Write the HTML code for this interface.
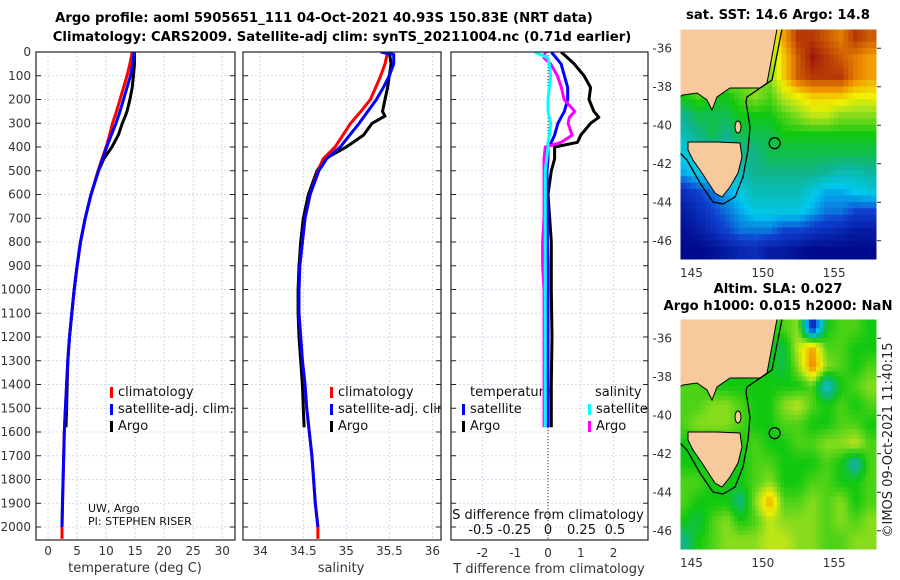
<!DOCTYPE html>
<html><head><meta charset="utf-8"><style>
body{margin:0;background:#fff;}
svg{display:block;font-family:"DejaVu Sans","Liberation Sans",sans-serif;}
.tk{font-size:12px;fill:#333;}
.ttl{font-size:13.2px;font-weight:bold;fill:#000;}
</style></head><body>
<svg id="fig" width="900" height="580" viewBox="0 0 900 580"></svg>
<script>
// ---- profile data ----
const depthClim=[0,50,100,150,200,250,300,350,400,450,500,600,700,800,900,1000,1100,1200,1300,1400,1500,1600,1700,1800,1900,2000,2050];
const tempClim=[14.5,14.1,13.6,13.0,12.4,11.8,11.1,10.6,10.0,9.3,8.6,7.4,6.4,5.6,5.0,4.5,4.1,3.7,3.4,3.2,3.0,2.8,2.7,2.6,2.5,2.4,2.4];
const tempSat=[14.8,14.6,14.2,13.6,13.0,12.4,11.7,10.9,10.1,9.4,8.7,7.4,6.4,5.6,5.0,4.5,4.1,3.7,3.4,3.2,3.0,2.8,2.7,2.6,2.5,2.4];
const depthArgo=[0,50,100,150,200,250,270,300,350,400,450,500,600,700,800,900,1000,1100,1200,1300,1400,1500,1580];
const tempArgo=[14.9,14.9,14.7,14.5,14.1,13.6,13.3,12.8,12.1,11.0,9.6,8.7,7.4,6.4,5.6,5.0,4.5,4.1,3.7,3.4,3.3,3.2,3.1];
const salClim=[35.48,35.45,35.40,35.34,35.28,35.17,35.05,34.96,34.87,34.73,34.67,34.58,34.52,34.49,34.46,34.45,34.45,34.47,34.49,34.52,34.54,34.57,34.6,34.62,34.64,34.67,34.67];
const depthSatS=[0,10,50,100,150,200,250,300,350,400,450,500,600,700,800,900,1000,1100,1200,1300,1400,1500,1600,1700,1800,1900,2000];
const salSat=[35.4,35.55,35.55,35.5,35.43,35.35,35.25,35.15,35.04,34.93,34.77,34.68,34.58,34.52,34.49,34.46,34.45,34.45,34.47,34.49,34.52,34.54,34.57,34.6,34.62,34.64,34.67];
const salArgo=[35.5,35.52,35.5,35.48,35.45,35.42,35.45,35.3,35.2,35.0,34.75,34.66,34.56,34.5,34.47,34.45,34.44,34.44,34.45,34.47,34.49,34.5,34.51];
// ---- difference data ----
const depthDiff=[0,25,50,100,150,200,250,275,300,350,380,400,450,500,600,700,800,900,1000,1200,1400,1580];
const dTempArgo=[0.4,0.6,0.8,1.1,1.3,1.25,1.4,1.55,1.3,1.0,0.9,0.2,0.2,0.1,0.0,0.05,0.1,0.1,0.1,0.12,0.1,0.1];
const dTempSat=[0.1,0.25,0.4,0.5,0.6,0.6,0.5,0.4,0.3,0.2,0.1,0.0,0.0,-0.03,-0.03,-0.02,-0.02,0,0,0,0,0];
const dSalArgo=[-0.02,-0.03,0.02,0.07,0.1,0.12,0.2,0.16,0.15,0.18,0.1,-0.02,-0.03,-0.03,-0.03,-0.03,-0.04,-0.04,-0.03,-0.03,-0.03,-0.03];
const dSalSat=[-0.1,0.0,0.01,0.02,0.01,0.0,0.0,0.01,0.02,0.01,0.0,0.0,-0.01,-0.02,-0.02,-0.02,-0.02,-0.02,-0.02,-0.02,-0.02,-0.02];
// ---- map grids (normalised colour value 0..1), rows lat -35..-47, cols lon 144..158 ----
const sstGrid=[
[.6,.6,.6,.6,.6,.6,.6,.8,.95,.95,.9,.85,.95,.9],
[.6,.6,.6,.6,.6,.6,.6,.75,.9,1,.95,.9,.85,.8],
[.6,.6,.6,.6,.6,.6,.6,.75,.9,.95,.95,.95,.85,.8],
[.5,.55,.5,.5,.55,.6,.55,.65,.7,.75,.75,.75,.7,.7],
[.4,.45,.45,.45,.5,.5,.5,.55,.6,.65,.65,.6,.6,.6],
[.35,.4,.45,.4,.45,.45,.45,.5,.5,.5,.5,.5,.5,.5],
[.3,.35,.35,.35,.4,.4,.45,.45,.45,.45,.45,.45,.45,.45],
[.25,.3,.3,.3,.35,.4,.4,.4,.4,.4,.38,.35,.35,.38],
[.1,.15,.2,.25,.3,.35,.35,.35,.35,.3,.25,.25,.28,.3],
[.05,.1,.15,.2,.25,.3,.3,.3,.3,.25,.2,.2,.15,.15],
[.02,.05,.1,.15,.2,.2,.2,.15,.15,.12,.1,.08,.05,.05],
[0,0,.02,.05,.08,.1,.05,.05,.02,0,0,0,0,0]];
const slaGrid=[
[.5,.5,.5,.5,.5,.5,.5,.55,.6,.05,.5,.55,.55,.5],
[.5,.5,.5,.5,.5,.5,.5,.45,.65,.8,.55,.55,.5,.5],
[.5,.5,.5,.5,.5,.5,.5,.45,.6,.85,.6,.55,.5,.55],
[.55,.55,.5,.5,.5,.5,.5,.5,.5,.55,.3,.5,.55,.6],
[.55,.55,.6,.6,.55,.5,.5,.6,.65,.55,.5,.55,.5,.55],
[.55,.6,.6,.6,.55,.5,.5,.55,.55,.5,.5,.55,.55,.5],
[.5,.5,.5,.5,.5,.55,.5,.5,.55,.55,.6,.6,.65,.55],
[.5,.5,.5,.5,.5,.55,.55,.5,.5,.5,.55,.5,.35,.55],
[.55,.55,.5,.5,.5,.55,.6,.5,.5,.55,.55,.5,.5,.55],
[.55,.5,.5,.5,.4,.6,.8,.55,.55,.6,.55,.6,.5,.55],
[.5,.45,.55,.6,.5,.55,.65,.6,.6,.6,.55,.6,.55,.6],
[.4,.5,.55,.6,.6,.6,.65,.65,.6,.6,.55,.55,.6,.6]];
const depthTicks=[0,100,200,300,400,500,600,700,800,900,1000,1100,1200,1300,1400,1500,1600,1700,1800,1900,2000];
const tempTicks=[0,5,10,15,20,25,30];
const salTicks=[34,34.5,35,35.5,36];
const salTickLabels=["34","34.5","35","35.5","36"];
const dTTicks=[-2,-1,0,1,2];
const dSTicks=[-0.5,-0.25,0,0.25,0.5];
const dSTickLabels=["-0.5","-0.25","0","0.25","0.5"];
const latTicks=[-36,-38,-40,-42,-44,-46];
const lonTicks=[145,150,155];
const argoPos=[150.83,-40.93];

const NS="http://www.w3.org/2000/svg";
const svg=document.getElementById('fig');
function mk(tag,attrs,parent){const e=document.createElementNS(NS,tag);for(const k in attrs)e.setAttribute(k,attrs[k]);(parent||svg).appendChild(e);return e;}
function txt(x,y,s,cls,anchor,parent){const t=mk('text',{x:x,y:y,class:cls,'text-anchor':anchor||'middle'},parent);t.textContent=s;return t;}

const Y0=52,Y1=540;
const yD=d=>Y0+(d/2000)*(527-Y0);
const panels=[
 {name:'temperature-panel',x0:36,x1:235,dom:[-2.07,32.2]},
 {name:'salinity-panel',x0:243,x1:441,dom:[33.8,36.1]},
 {name:'difference-panel',x0:451,x1:648,dom:[-2.96,3.05]}];
function sx(p,v){return p.x0+(v-p.dom[0])/(p.dom[1]-p.dom[0])*(p.x1-p.x0);}
const sS=v=>548+v*134;

const defs=mk('defs',{});
panels.forEach((p,i)=>{const c=mk('clipPath',{id:'cp'+i},defs);mk('rect',{x:p.x0,y:Y0,width:p.x1-p.x0,height:Y1-Y0},c);});

function grid(p,g,xs){
  depthTicks.forEach(d=>{const l=mk('line',{x1:p.x0,x2:p.x1,y1:yD(d),y2:yD(d),stroke:'#c9cfe6','stroke-width':0.8,'stroke-dasharray':'2,2'},g);
  });
  xs.forEach(x=>{const l=mk('line',{x1:x,x2:x,y1:Y0,y2:Y1,stroke:'#c9cfe6','stroke-width':0.8,'stroke-dasharray':'2,2'},g);
  });
}
function line(g,xs,ds,color,name,clip){
  let d='';xs.forEach((v,i)=>{d+=(i?'L':'M')+v.toFixed(1)+','+yD(ds[i]).toFixed(1);});
  const p=mk('path',{d:d,fill:'none',stroke:color,'stroke-width':3,'stroke-linejoin':'round','clip-path':'url(#'+clip+')'},g);
  
}
function frame(p,g){
  const r=mk('rect',{x:p.x0,y:Y0,width:p.x1-p.x0,height:Y1-Y0,fill:'none',stroke:'#222','stroke-width':1.2},g);
  
  depthTicks.forEach(d=>{mk('line',{x1:p.x0,x2:p.x0+5,y1:yD(d),y2:yD(d),stroke:'#222'},g);mk('line',{x1:p.x1-5,x2:p.x1,y1:yD(d),y2:yD(d),stroke:'#222'},g);});
}
function legendEntry(g,x,y,color,label,name){
  const gg=mk('g',{},g);
  mk('rect',{x:x,y:y-9,width:3,height:11,fill:color},gg);
  txt(x+8,y,label,'tk','start',gg).setAttribute('style','font-size:13px;fill:#111');
}

const t1=txt(324,22,'Argo profile: aoml 5905651_111 04-Oct-2021 40.93S 150.83E (NRT data)','ttl');

const t2=txt(342,41,'Climatology: CARS2009. Satellite-adj clim: synTS_20211004.nc (0.71d earlier)','ttl');


const dl=mk('g',{});
depthTicks.forEach(d=>txt(31,yD(d)+4,String(d),'tk','end',dl));

{const p=panels[0];const g=mk('g',{});
 grid(p,g,tempTicks.map(v=>sx(p,v)));
 line(g,tempArgo.map(v=>sx(p,v)),depthArgo,'#000','argo-temperature-line','cp0');
 line(g,tempClim.map(v=>sx(p,v)),depthClim,'#f00','climatology-temperature-line','cp0');
 line(g,tempSat.map(v=>sx(p,v)),depthClim.slice(0,tempSat.length),'#00f','satellite-temperature-line','cp0');
 frame(p,g);
 tempTicks.forEach(v=>txt(sx(p,v),555,String(v),'tk','middle',g));
 const xl=txt(135,572,'temperature (deg C)','tk','middle',g);xl.setAttribute('style','font-size:13px');
 
 legendEntry(g,110,396,'#f00','climatology','legend-climatology');
 legendEntry(g,110,413,'#00f','satellite-adj. clim.','legend-satellite-adj');
 legendEntry(g,110,430,'#000','Argo','legend-argo');
 const c1=txt(88,512,'UW, Argo','tk','start',g);c1.setAttribute('style','font-size:11px;fill:#111');
 const c2=txt(88,525,'PI: STEPHEN RISER','tk','start',g);c2.setAttribute('style','font-size:11px;fill:#111');
}
{const p=panels[1];const g=mk('g',{});
 grid(p,g,salTicks.map(v=>sx(p,v)));
 line(g,salArgo.map(v=>sx(p,v)),depthArgo,'#000','argo-salinity-line','cp1');
 line(g,salClim.map(v=>sx(p,v)),depthClim,'#f00','climatology-salinity-line','cp1');
 line(g,salSat.map(v=>sx(p,v)),depthSatS,'#00f','satellite-salinity-line','cp1');
 frame(p,g);
 salTicks.forEach((v,i)=>txt(sx(p,v),555,salTickLabels[i],'tk','middle',g));
 const xl=txt(341,572,'salinity','tk','middle',g);xl.setAttribute('style','font-size:13px');
 
 const lg=mk('g',{'clip-path':'url(#cp1)'},g);
 legendEntry(lg,330,396,'#f00','climatology','legend-climatology');
 legendEntry(lg,330,413,'#00f','satellite-adj. clim.','legend-satellite-adj');
 legendEntry(lg,330,430,'#000','Argo','legend-argo');
}
{const p=panels[2];const g=mk('g',{});
 grid(p,g,dTTicks.map(v=>sx(p,v)));
 mk('line',{x1:sx(p,0),x2:sx(p,0),y1:Y0,y2:Y1,stroke:'#333','stroke-dasharray':'1,2'},g);
 txt(470,396,'temperature','tk','start',g).setAttribute('style','font-size:13px;fill:#111');
 txt(595,396,'salinity','tk','start',g).setAttribute('style','font-size:13px;fill:#111');
 line(g,dTempArgo.map(v=>sx(p,v)),depthDiff,'#000','argo-temperature-diff-line','cp2');
 line(g,dTempSat.map(v=>sx(p,v)),depthDiff,'#00f','satellite-temperature-diff-line','cp2');
 line(g,dSalArgo.map(v=>sS(v)),depthDiff,'#f0f','argo-salinity-diff-line','cp2');
 line(g,dSalSat.map(v=>sS(v)),depthDiff,'#0ff','satellite-salinity-diff-line','cp2');
 frame(p,g);
 dTTicks.forEach(v=>txt(sx(p,v),557,String(v),'tk','middle',g));
 const xl=txt(549,573,'T difference from climatology','tk','middle',g);xl.setAttribute('style','font-size:13px');
 
 const sl=txt(548,519,'S difference from climatology','tk','middle',g);sl.setAttribute('style','font-size:13px;fill:#111');
 
 dSTicks.forEach((v,i)=>txt(sS(v),534,dSTickLabels[i],'tk','middle',g).setAttribute('style','font-size:13px;fill:#111'));
 legendEntry(g,462,413,'#00f','satellite','legend-t-satellite');
 legendEntry(g,462,430,'#000','Argo','legend-t-argo');
 legendEntry(g,588,413,'#0ff','satellite','legend-s-satellite');
 legendEntry(g,588,430,'#f0f','Argo','legend-s-argo');
}

// ---- maps ----
const stops=[[0,[0,10,138]],[0.15,[16,64,208]],[0.28,[0,200,240]],[0.4,[16,180,140]],[0.5,[16,200,16]],[0.62,[160,224,32]],[0.7,[240,240,0]],[0.82,[240,144,0]],[1,[160,24,8]]];
function cmap(v){v=Math.max(0,Math.min(1,v));for(let i=1;i<stops.length;i++){if(v<=stops[i][0]){const a=stops[i-1],b=stops[i];const t=(v-a[0])/(b[0]-a[0]);const c=a[1].map((x,k)=>Math.round(x+(b[1][k]-x)*t));return 'rgb('+c.join(',')+')';}}return 'rgb(160,24,8)';}
function sample(grid,r,c){
  const R=grid.length,C=grid[0].length;
  r=Math.max(0,Math.min(R-1,r));c=Math.max(0,Math.min(C-1,c));
  const r0=Math.floor(r),c0=Math.floor(c),r1=Math.min(R-1,r0+1),c1=Math.min(C-1,c0+1),fr=r-r0,fc=c-c0;
  return grid[r0][c0]*(1-fr)*(1-fc)+grid[r0][c1]*(1-fr)*fc+grid[r1][c0]*fr*(1-fc)+grid[r1][c1]*fr*fc;
}
const mainland=[[679,29],[777,29],[770,67],[767,83],[760,88],[730,88],[717,97],[712,110],[707,100],[697,93],[683,95],[679,97]];
const tasmania=[[688,142],[717,142],[740,143],[742,157],[738,173],[730,187],[722,197],[715,193],[702,173],[693,160],[688,150]];
const shelf=[[782,29],[772,80],[747,97],[746,102],[750,127],[748,150],[743,177],[735,197],[723,204],[713,202],[700,183],[687,160],[679,152]];
function drawMap(grid,top,name,titles,sub){
  const g=mk('g',{});
  const X0=680,X1=877,H=231,lon0=144.2,lon1=158.0,lat0=-35,lat1=-47;
  const mx=l=>X0+(l-lon0)/(lon1-lon0)*(X1-X0);
  const my=l=>top+(l-lat0)/(lat1-lat0)*H;
  const cid='mc'+name;const c=mk('clipPath',{id:cid},defs);mk('rect',{x:X0,y:top,width:X1-X0,height:H},c);
  const cg=mk('g',{'clip-path':'url(#'+cid+')'},g);
  const R=grid.length,C=grid[0].length;
  for(let r=0;r<R*sub;r++)for(let ci=0;ci<C*sub;ci++){
    const v=sample(grid,(r+0.5)/sub-0.5,(ci+0.5)/sub-0.5);
    const lon=144+ci/sub,lat=-35-r/sub;
    const cell=mk('rect',{x:mx(lon)-0.3,y:my(lat)-0.3,width:mx(lon+1/sub)-mx(lon)+0.6,height:my(lat-1/sub)-my(lat)+0.6,fill:cmap(v)},cg);
    
  }
  const off=top-29;
  const pts=a=>a.map(p=>p[0]+','+(p[1]+off)).join(' ');
  const m=mk('polygon',{points:pts(mainland),fill:'#f7c99c',stroke:'#000','stroke-width':1},cg);
  const t=mk('polygon',{points:pts(tasmania),fill:'#f7c99c',stroke:'#000','stroke-width':1},cg);
  mk('ellipse',{cx:738,cy:127+off,rx:3,ry:6,fill:'#f7c99c',stroke:'#000'},cg);
  const s=mk('polyline',{points:pts(shelf),fill:'none',stroke:'#000','stroke-width':1.3},cg);
  const ac=mk('circle',{cx:mx(argoPos[0]),cy:my(argoPos[1]),r:5.5,fill:'none',stroke:'#000','stroke-width':1.3},g);
  
  mk('rect',{x:X0,y:top,width:X1-X0,height:H,fill:'none',stroke:'#fff','stroke-width':1},g);
  latTicks.forEach(l=>{txt(672,my(l)+4,String(l),'tk','end',g);mk('line',{x1:X1,x2:X1+4,y1:my(l),y2:my(l),stroke:'#222'},g);});
  lonTicks.forEach(l=>txt(mx(l),top+H+17,String(l),'tk','middle',g));
  titles.forEach(tt=>{const e=txt(778,tt[1],tt[0],'ttl','middle',g);});
}
drawMap(sstGrid,29,'sst-map',[['sat. SST: 14.6 Argo: 14.8',19]],3);
drawMap(slaGrid,319,'sla-map',[['Altim. SLA: 0.027',293],['Argo h1000: 0.015 h2000: NaN',310]],4);
const cr=txt(0,0,'©IMOS 09-Oct-2021 11:40:15','tk','middle');
cr.setAttribute('transform','translate(892,440) rotate(-90)');cr.setAttribute('style','font-size:13px;fill:#222');

</script>
</body></html>
